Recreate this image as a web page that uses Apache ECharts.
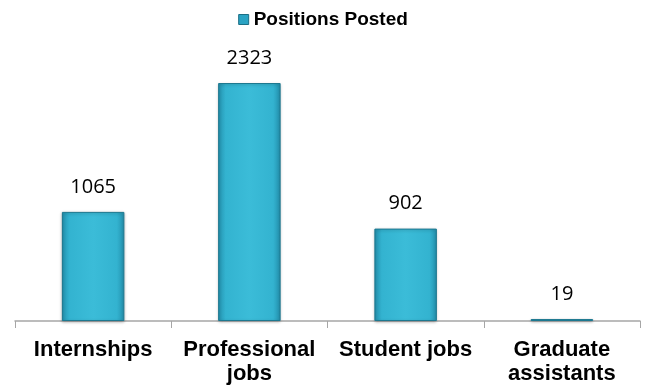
<!DOCTYPE html>
<html><head><meta charset="utf-8">
<script src="https://cdn.jsdelivr.net/npm/echarts@6/dist/echarts.min.js"></script>
<style>html,body{margin:0;padding:0;background:#fff}#c{width:646px;height:391px}</style>
</head><body><div id="c"></div>
<script>
const categories = ['Internships', 'Professional\njobs', 'Student jobs', 'Graduate\nassistants'];
const positionsPosted = [1065, 2323, 902, 19];
const seriesName = 'Positions Posted';

const chart = echarts.init(document.getElementById('c'));
const barColor = new echarts.graphic.LinearGradient(0, 0, 1, 0, [
  {offset: 0, color: '#2390ad'},
  {offset: 0.12, color: '#33b3d0'},
  {offset: 0.5, color: '#3bbcd8'},
  {offset: 0.88, color: '#33b3d0'},
  {offset: 1, color: '#2390ad'}
]);
chart.setOption({
  animation: false,
  legend: {
    top: 5, left: 'center',
    icon: 'rect', itemWidth: 10, itemHeight: 10, itemGap: 4,
    textStyle: {fontFamily: 'Liberation Sans', fontWeight: 'bold', fontSize: 19, color: '#000'},
    data: [{name: seriesName, itemStyle: {color: '#2aa3c3', borderColor: '#1b6f85', borderWidth: 1}}]
  },
  grid: {left: 15, right: 6, top: 40, bottom: 70},
  xAxis: {
    type: 'category', data: categories,
    axisLine: {lineStyle: {color: '#a6a6a6', width: 1.5}},
    axisTick: {show: true, length: 7, lineStyle: {color: '#a6a6a6'}},
    axisLabel: {fontFamily: 'Liberation Sans', fontWeight: 'bold', fontSize: 22, color: '#000', margin: 17, lineHeight: 24, interval: 0}
  },
  yAxis: {type: 'value', min: 0, max: 2743, show: false, splitLine: {show: false}},
  series: [{
    name: seriesName, type: 'bar', data: positionsPosted, barWidth: '40%',
    itemStyle: {color: barColor, borderColor: '#1d7890', borderWidth: 1,
      shadowColor: 'rgba(0,0,0,0.25)', shadowBlur: 3, shadowOffsetY: 1},
    label: {show: true, position: 'top', distance: 15, fontFamily: 'Open Sans', fontSize: 20, color: '#000'}
  }]
});
</script></body></html>
